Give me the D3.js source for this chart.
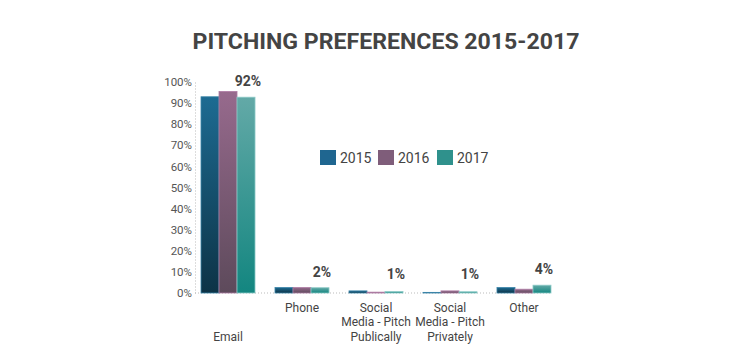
<!DOCTYPE html>
<meta charset="utf-8">
<script src="https://d3js.org/d3.v7.min.js"></script>
<style>
  body { margin: 0; background: #fff; }
  text { font-family: Roboto, "Noto Sans", sans-serif; }
</style>
<div id="my_dataviz"></div>
<script>

// data
var categories = ["Email", "Phone", "Social Media - Pitch Publically", "Social Media - Pitch Privately", "Other"]
var catLines = [["", "", "Email"], ["Phone"], ["Social", "Media - Pitch", "Publically"], ["Social", "Media - Pitch", "Privately"], ["Other"]]
var years = ["2015", "2016", "2017"]
var v2015 = [93, 2.6, 1.0, 0.3, 2.6]
var v2016 = [95.5, 2.6, 0.4, 1.0, 1.8]
var v2017 = [92.8, 2.5, 0.7, 0.6, 3.7]
var valueLabels = ["92%", "2%", "1%", "1%", "4%"]
var yTicks = [0, 10, 20, 30, 40, 50, 60, 70, 80, 90, 100]

var width = 750, height = 361

var svg = d3.select("#my_dataviz")
  .append("svg")
    .attr("width", width)
    .attr("height", height)

// gradients for the bars
var grads = [
  {id: "g2015", top: "#1d6b92", bottom: "#0d3346", stroke: "#3b84a8"},
  {id: "g2016", top: "#976a8d", bottom: "#5d4a5b", stroke: "#ad7ba3"},
  {id: "g2017", top: "#63a9a7", bottom: "#138680", stroke: "#8dcbc8"}
]
var legendColor = ["#1f6690", "#7f5d7a", "#2f918c"]

var defs = svg.append("defs")
grads.forEach(function(g) {
  var lg = defs.append("linearGradient").attr("id", g.id)
    .attr("x1", 0).attr("y1", 0).attr("x2", 0).attr("y2", 1)
  lg.append("stop").attr("offset", "0%").attr("stop-color", g.top)
  lg.append("stop").attr("offset", "100%").attr("stop-color", g.bottom)
})

// title
svg.append("text")
  .attr("x", 386)
  .attr("y", 49)
  .attr("text-anchor", "middle")
  .attr("textLength", 387)
  .attr("lengthAdjust", "spacingAndGlyphs")
  .style("font-size", "21.5px")
  .style("font-weight", "bold")
  .style("fill", "#444")
  .text("PITCHING PREFERENCES 2015-2017")

// scales
var x = d3.scaleBand()
  .domain(categories)
  .range([201, 551])
  .paddingInner(0.27)
  .paddingOuter(0)

var xSub = d3.scaleBand()
  .domain(years)
  .range([0, x.bandwidth()])

var y = d3.scaleLinear()
  .domain([0, 100])
  .range([293, 82])

// y axis
var yAxis = svg.append("g")
  .attr("transform", "translate(195,0)")
  .call(d3.axisLeft(y).tickValues(yTicks).tickSize(0).tickPadding(3).tickFormat(function(d) { return d + "%" }))
yAxis.select(".domain")
  .attr("stroke", "#bbb")
  .attr("stroke-dasharray", "1,2")
yAxis.selectAll("text")
  .style("font-size", "11.5px")
  .style("fill", "#555")
  .style("font-family", "Roboto, sans-serif")

// baseline
svg.append("line")
  .attr("x1", 195).attr("x2", 551)
  .attr("y1", y(0)).attr("y2", y(0))
  .attr("stroke", "#bbb")
  .attr("stroke-dasharray", "1,2")

// bars
var series = [v2015, v2016, v2017]
series.forEach(function(vals, i) {
  svg.append("g")
    .selectAll("rect")
    .data(vals)
    .enter()
    .append("rect")
      .attr("x", function(d, j) { return x(categories[j]) + xSub(years[i]) })
      .attr("y", function(d) { return y(d) })
      .attr("width", xSub.bandwidth())
      .attr("height", function(d) { return y(0) - y(d) })
      .attr("fill", "url(#" + grads[i].id + ")")
      .attr("stroke", grads[i].stroke)
      .attr("stroke-width", 0.8)
})

// value labels above 2017 bars
svg.append("g")
  .selectAll("text")
  .data(v2017)
  .enter()
  .append("text")
    .attr("x", function(d, j) { return x(categories[j]) + xSub("2017") + xSub.bandwidth() / 2 + 2 })
    .attr("y", function(d) { return Math.min(y(d) - 11, y(0) - 14) })
    .attr("text-anchor", "middle")
    .style("font-size", "14px")
    .style("font-weight", "bold")
    .style("fill", "#444")
    .text(function(d, j) { return valueLabels[j] })

// category labels
var catG = svg.append("g")
  .selectAll("text")
  .data(catLines)
  .enter()
  .append("text")
    .attr("x", function(d, j) { return x(categories[j]) + x.bandwidth() / 2 })
    .attr("y", 311.5)
    .attr("text-anchor", "middle")
    .style("font-size", "12px")
    .style("fill", "#444")
catG.selectAll("tspan")
  .data(function(d) { return d })
  .enter()
  .append("tspan")
    .attr("x", function() { return this.parentNode.getAttribute("x") })
    .attr("dy", function(d, k) { return k === 0 ? 0 : 14.5 })
    .text(function(d) { return d === "" ? "\u00a0" : d })

// legend
var legend = svg.append("g")
  .selectAll("g")
  .data(years)
  .enter()
  .append("g")
    .attr("transform", function(d, i) { return "translate(" + [320, 378, 437][i] + ",150)" })
legend.append("rect")
  .attr("width", 16).attr("height", 15)
  .attr("fill", function(d, i) { return legendColor[i] })
legend.append("text")
  .attr("x", 20)
  .attr("y", 12.5)
  .style("font-size", "14px")
  .style("fill", "#444")
  .text(function(d) { return d })

</script>
